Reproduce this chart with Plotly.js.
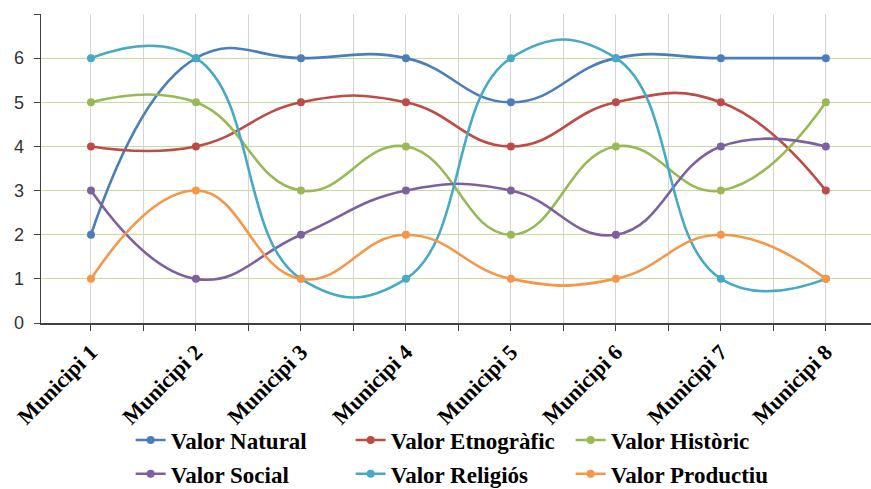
<!DOCTYPE html>
<html>
<head>
<meta charset="utf-8">
<script src="https://cdn.plot.ly/plotly-3.0.1.min.js"></script>
<style>html,body{margin:0;padding:0;background:#fff;}#chart{width:871px;height:489px;}</style>
</head>
<body>
<div id="chart"></div>
<script>
const categories = ['Municipi 1','Municipi 2','Municipi 3','Municipi 4','Municipi 5','Municipi 6','Municipi 7','Municipi 8'];
const valorNatural    = [2,6,6,6,5,6,6,6];
const valorEtnografic = [4,4,5,5,4,5,5,3];
const valorHistoric   = [5,5,3,4,2,4,3,5];
const valorSocial     = [3,1,2,3,3,2,4,4];
const valorReligios   = [6,6,1,1,6,6,1,1];
const valorProductiu  = [1,3,1,2,1,1,2,1];
const yTicks = [0,1,2,3,4,5,6];

const xIdx = categories.map((_, i) => i);
const xMid = categories.slice(1).map((_, i) => i + 0.5);

const series = [
  {name:'Valor Natural', y:valorNatural, color:'#4a7ebb', legend:'legend'},
  {name:'Valor Etnogràfic', y:valorEtnografic, color:'#be4b48', legend:'legend'},
  {name:'Valor Històric', y:valorHistoric, color:'#98b954', legend:'legend'},
  {name:'Valor Social', y:valorSocial, color:'#7d60a0', legend:'legend2'},
  {name:'Valor Religiós', y:valorReligios, color:'#46aac5', legend:'legend2'},
  {name:'Valor Productiu', y:valorProductiu, color:'#f79646', legend:'legend2'}
];

const traces = series.map(s => ({
  type:'scatter', mode:'lines+markers', name:s.name, x:xIdx, y:s.y,
  line:{color:s.color, width:2.6, shape:'spline', smoothing:1.3},
  marker:{color:s.color, size:8},
  legend:s.legend
}));

const legendFont = {family:'Liberation Serif', size:23, weight:'bold', color:'#000'};
const axisColor = '#404040';

const layout = {
  width:871, height:489,
  margin:{l:41, r:0, t:14, b:166},
  paper_bgcolor:'#fff', plot_bgcolor:'#fff',
  showlegend:true,
  xaxis:{
    range:[-0.476, 7.43],
    tickmode:'array', tickvals:xIdx, ticktext:categories,
    tickangle:-45,
    tickfont:{family:'Liberation Serif', size:22, weight:'bold', color:'#000'},
    ticks:'outside', ticklen:6, tickcolor:axisColor, tickwidth:1,
    showline:true, linecolor:axisColor, linewidth:1.5,
    showgrid:true, gridcolor:'#d4d4d4', gridwidth:1, zeroline:false,
    automargin:false,
    minor:{tickmode:'array', tickvals:xMid, ticks:'outside', ticklen:6, tickcolor:axisColor, showgrid:true, gridcolor:'#d4d4d4', gridwidth:1}
  },
  yaxis:{
    range:[0,7],
    tickmode:'array', tickvals:yTicks,
    tickfont:{family:'Liberation Sans', size:18, color:'#333'},
    ticks:'outside', ticklen:6, tickcolor:axisColor,
    ticklabelstandoff:6,
    showline:true, linecolor:axisColor, linewidth:1.5,
    showgrid:true, gridcolor:'#c9da9e', gridwidth:1.2, zeroline:false,
    automargin:false,
    minor:{tickmode:'array', tickvals:[7], ticks:'outside', ticklen:6, tickcolor:axisColor, showgrid:true, gridcolor:'#c9da9e', gridwidth:1.2}
  },
  legend:{orientation:'h', xref:'paper', yref:'container', x:0.108, xanchor:'left', y:0.1, yanchor:'middle', entrywidth:175, font:legendFont, bgcolor:'rgba(0,0,0,0)', itemclick:false},
  legend2:{orientation:'h', xref:'paper', yref:'container', x:0.108, xanchor:'left', y:0.031, yanchor:'middle', entrywidth:175, font:legendFont, bgcolor:'rgba(0,0,0,0)', itemclick:false}
};

Plotly.newPlot('chart', traces, layout, {displayModeBar:false, staticPlot:true});
</script>
</body>
</html>
